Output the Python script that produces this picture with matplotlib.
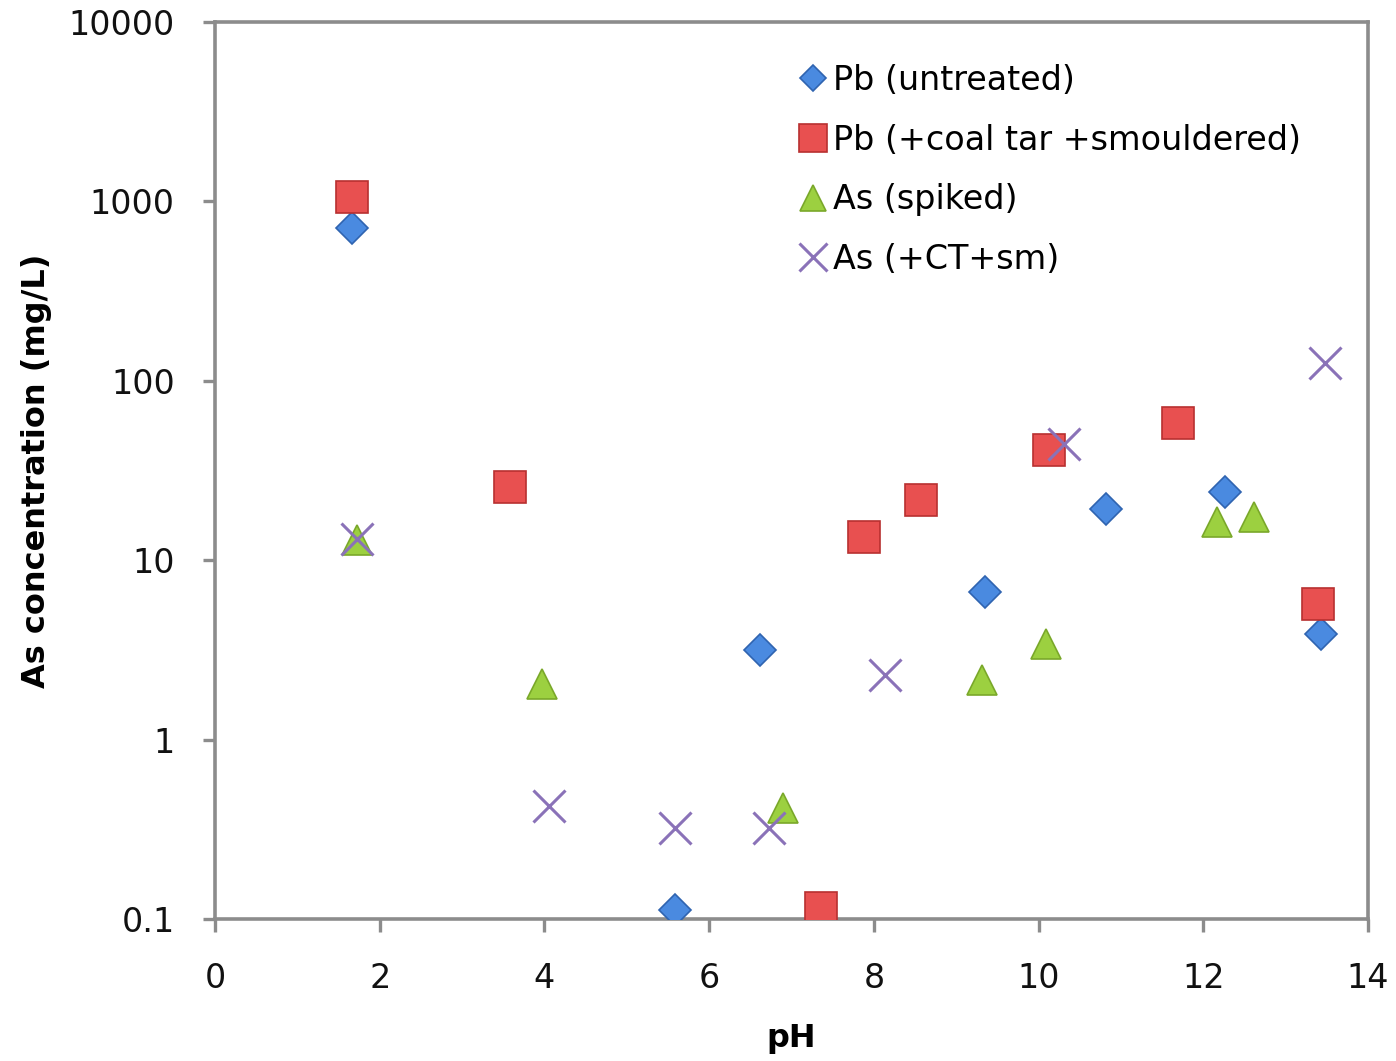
"""Leachate concentration versus pH for Pb and As samples."""

import matplotlib

matplotlib.use("Agg")
import matplotlib.pyplot as plt
from matplotlib.ticker import FixedLocator, FixedFormatter, NullLocator

# Pb, untreated soil
pb_untreated_ph = [1.66, 5.59, 6.62, 9.35, 10.82, 12.26, 13.43]
pb_untreated_conc = [710, 0.112, 3.16, 6.65, 19.3, 24.0, 3.88]

# Pb, coal tar added and smouldered
pb_treated_ph = [1.66, 3.58, 7.36, 7.88, 8.57, 10.13, 11.69, 13.39]
pb_treated_conc = [1060, 25.6, 0.115, 13.5, 21.7, 41.0, 58.0, 5.7]

# As, spiked soil
as_spiked_ph = [1.72, 3.97, 6.90, 9.31, 10.09, 12.17, 12.62]
as_spiked_conc = [13.0, 2.04, 0.416, 2.15, 3.41, 16.3, 17.4]

# As, coal tar added and smouldered
as_treated_ph = [1.72, 4.06, 5.59, 6.73, 8.14, 10.31, 13.48]
as_treated_conc = [13.2, 0.427, 0.32, 0.32, 2.29, 44.4, 125.6]

x_ticks = [0, 2, 4, 6, 8, 10, 12, 14]
y_ticks = [0.1, 1, 10, 100, 1000, 10000]
y_tick_labels = ["0.1", "1", "10", "100", "1000", "10000"]

SPINE = "#8c8c8c"

fig = plt.figure(figsize=(13.96, 10.61), dpi=100)
ax = fig.add_axes([215 / 1396, 1 - 919 / 1061, (1368 - 215) / 1396, (919 - 22) / 1061])

ax.plot(pb_untreated_ph, pb_untreated_conc, linestyle="none", marker="D", markersize=16,
        markerfacecolor="#4a8ae0", markeredgecolor="#2f64b0", markeredgewidth=1.2,
        label="Pb (untreated)", zorder=3)
ax.plot(pb_treated_ph, pb_treated_conc, linestyle="none", marker="s", markersize=23,
        markerfacecolor="#e85050", markeredgecolor="#b83030", markeredgewidth=1.2,
        label="Pb (+coal tar +smouldered)", zorder=3)
ax.plot(as_spiked_ph, as_spiked_conc, linestyle="none", marker="^", markersize=22,
        markerfacecolor="#9cd040", markeredgecolor="#7aa82a", markeredgewidth=1.2,
        label="As (spiked)", zorder=3)
ax.plot(as_treated_ph, as_treated_conc, linestyle="none", marker="x", markersize=23,
        markeredgecolor="#8a72b8", markeredgewidth=2.2,
        label="As (+CT+sm)", zorder=4)

ax.set_yscale("log")
ax.set_xlim(0, 14)
ax.set_ylim(0.1, 10000)
ax.xaxis.set_major_locator(FixedLocator(x_ticks))
ax.yaxis.set_major_locator(FixedLocator(y_ticks))
ax.yaxis.set_major_formatter(FixedFormatter(y_tick_labels))
ax.yaxis.set_minor_locator(NullLocator())

for side in ax.spines.values():
    side.set_color(SPINE)
    side.set_linewidth(2.6)

ax.tick_params(axis="both", which="major", direction="out", length=9, width=2.4,
               color=SPINE, labelsize=24, labelcolor="#111111")
ax.tick_params(axis="x", pad=22)
ax.tick_params(axis="y", pad=20)

ax.set_xlabel("pH", fontsize=23, fontweight="bold", labelpad=20)
ax.set_ylabel("As concentration (mg/L)", fontsize=23, fontweight="bold", labelpad=12)

ax.legend(loc="upper left", bbox_to_anchor=(0.497, 0.968), frameon=False, fontsize=24,
          markerscale=0.85, handlelength=0.7, handletextpad=0.25, labelspacing=0.8,
          borderaxespad=0)

fig.savefig("out.png", dpi=100)
